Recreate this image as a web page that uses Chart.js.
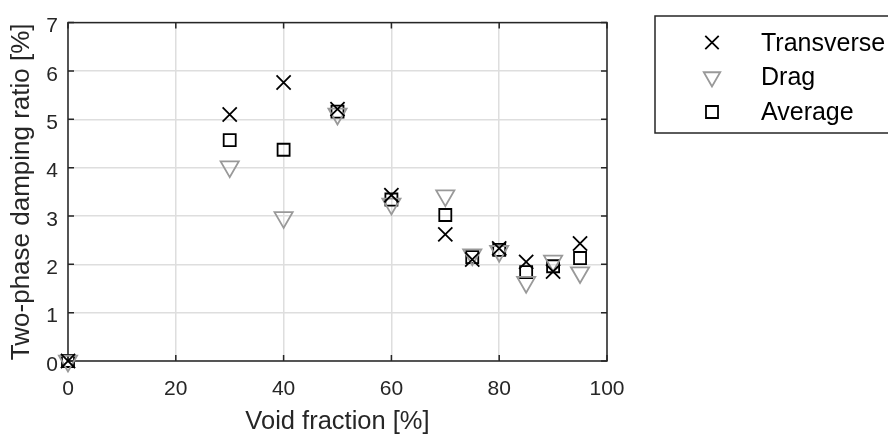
<!DOCTYPE html>
<html>
<head>
<meta charset="utf-8">
<script src="https://cdn.jsdelivr.net/npm/chart.js@4/dist/chart.umd.min.js"></script>
<style>
  html, body { margin: 0; padding: 0; background: #ffffff; }
  #wrap { width: 888px; height: 438px; position: relative; }
</style>
</head>
<body>
<div id="wrap"><canvas id="c" width="888" height="438"></canvas></div>
<script>
// ---- data ----
const voidFraction = [0, 30, 40, 50, 60, 70, 75, 80, 85, 90, 95];
const transverse   = [0, 5.10, 5.76, 5.21, 3.43, 2.62, 2.10, 2.33, 2.05, 1.85, 2.43];
const drag         = [0, 4.02, 2.97, 5.11, 3.25, 3.42, 2.20, 2.27, 1.63, 2.07, 1.83];
const average      = [0, 4.57, 4.37, 5.16, 3.34, 3.02, 2.15, 2.30, 1.84, 1.96, 2.13];
const seriesLabels = ['Transverse', 'Drag', 'Average'];
const xTicks = [0, 20, 40, 60, 80, 100];
const yTicks = [0, 1, 2, 3, 4, 5, 6, 7];
const xTitle = 'Void fraction [%]';
const yTitle = 'Two-phase damping ratio [%]';

const FONT = '"Liberation Sans", Arial, Helvetica, sans-serif';
const AXIS = '#262626';

function pts(ys) { return voidFraction.map((x, i) => ({ x: x, y: ys[i] })); }

function drawMarker(ctx, ds, x, y) {
  ctx.save();
  ctx.strokeStyle = ds.borderColor;
  ctx.lineWidth = ds.borderWidth;
  ctx.beginPath();
  const r = ds.pointRadius;
  if (ds.pointStyle === 'crossRot') {
    const o = r * Math.SQRT1_2;
    ctx.moveTo(x - o, y - o); ctx.lineTo(x + o, y + o);
    ctx.moveTo(x - o, y + o); ctx.lineTo(x + o, y - o);
  } else if (ds.pointStyle === 'triangle') {
    for (let k = 0; k < 3; k++) {
      const a = Math.PI + k * 2 * Math.PI / 3;
      const px = x + Math.sin(a) * r, py = y - Math.cos(a) * r;
      if (k === 0) ctx.moveTo(px, py); else ctx.lineTo(px, py);
    }
    ctx.closePath();
  } else {
    const s = r * Math.SQRT1_2;
    ctx.rect(x - s, y - s, 2 * s, 2 * s);
  }
  ctx.stroke();
  ctx.restore();
}

const boxPlugin = {
  id: 'boxPlugin',
  beforeDatasetsDraw(chart) {
    const { ctx, chartArea: a, scales } = chart;
    ctx.save();
    ctx.strokeStyle = AXIS;
    ctx.lineWidth = 1.5;
    ctx.strokeRect(a.left, a.top, a.right - a.left, a.bottom - a.top);
    const tl = 6;
    ctx.beginPath();
    xTicks.forEach(v => {
      const px = scales.x.getPixelForValue(v);
      ctx.moveTo(px, a.bottom); ctx.lineTo(px, a.bottom - tl);
      ctx.moveTo(px, a.top); ctx.lineTo(px, a.top + tl);
    });
    yTicks.forEach(v => {
      const py = scales.y.getPixelForValue(v);
      ctx.moveTo(a.left, py); ctx.lineTo(a.left + tl, py);
      ctx.moveTo(a.right, py); ctx.lineTo(a.right - tl, py);
    });
    ctx.stroke();
    ctx.restore();
  },
  afterDraw(chart) {
    const ctx = chart.ctx;
    ctx.save();
    ctx.fillStyle = '#ffffff';
    ctx.fillRect(655, 16, 260, 117);
    ctx.strokeStyle = AXIS;
    ctx.lineWidth = 1.5;
    ctx.strokeRect(655, 16, 260, 117);
    const rows = [44, 78.5, 113.5];
    ctx.font = '25px ' + FONT;
    ctx.textBaseline = 'middle';
    ctx.textAlign = 'left';
    ctx.fillStyle = '#000000';
    chart.data.datasets.forEach((ds, i) => {
      const legendDs = Object.assign({}, ds, { pointRadius: ds.legendRadius });
      drawMarker(ctx, legendDs, 712, rows[i] - 1.5);
      ctx.fillText(ds.label, 761, rows[i]);
    });
    ctx.restore();
  }
};

new Chart(document.getElementById('c'), {
  type: 'scatter',
  data: {
    datasets: [
      { label: seriesLabels[0], data: pts(transverse), pointStyle: 'crossRot', pointRadius: 10, legendRadius: 9.5,
        borderColor: '#000000', backgroundColor: 'rgba(0,0,0,0)', borderWidth: 1.8, clip: false },
      { label: seriesLabels[1], data: pts(drag), pointStyle: 'triangle', rotation: 180, pointRadius: 10.5, legendRadius: 9.5,
        borderColor: '#999999', backgroundColor: 'rgba(0,0,0,0)', borderWidth: 1.8, clip: false },
      { label: seriesLabels[2], data: pts(average), pointStyle: 'rect', pointRadius: 8.5, legendRadius: 8.5,
        borderColor: '#000000', backgroundColor: 'rgba(0,0,0,0)', borderWidth: 1.8, clip: false }
    ]
  },
  options: {
    responsive: false,
    devicePixelRatio: 1,
    animation: false,
    layout: { padding: { left: 0, top: 16, right: 281, bottom: 0 } },
    plugins: { legend: { display: false }, tooltip: { enabled: false } },
    elements: { point: { hoverRadius: 10 } },
    scales: {
      x: {
        type: 'linear', min: 0, max: 100,
        afterBuildTicks: s => { s.ticks = xTicks.map(v => ({ value: v })); },
        afterFit: s => { s.height = 77; },
        ticks: { padding: 15.5, color: AXIS, font: { family: FONT, size: 21 } },
        grid: { color: '#dedede', lineWidth: 1.5, drawTicks: false },
        border: { display: false },
        title: { display: true, text: xTitle, color: AXIS, font: { family: FONT, size: 25.5 }, padding: { top: 0, bottom: 1 } }
      },
      y: {
        type: 'linear', min: 0, max: 7,
        afterBuildTicks: s => { s.ticks = yTicks.map(v => ({ value: v })); },
        afterFit: s => { s.width = 68; },
        ticks: { padding: 10, labelOffset: 4, color: AXIS, font: { family: FONT, size: 21 } },
        grid: { color: '#dedede', lineWidth: 1.5, drawTicks: false },
        border: { display: false },
        title: { display: true, text: yTitle, color: AXIS, font: { family: FONT, size: 26 }, padding: { top: 6, bottom: 0 } }
      }
    }
  },
  plugins: [boxPlugin]
});
</script>
</body>
</html>
